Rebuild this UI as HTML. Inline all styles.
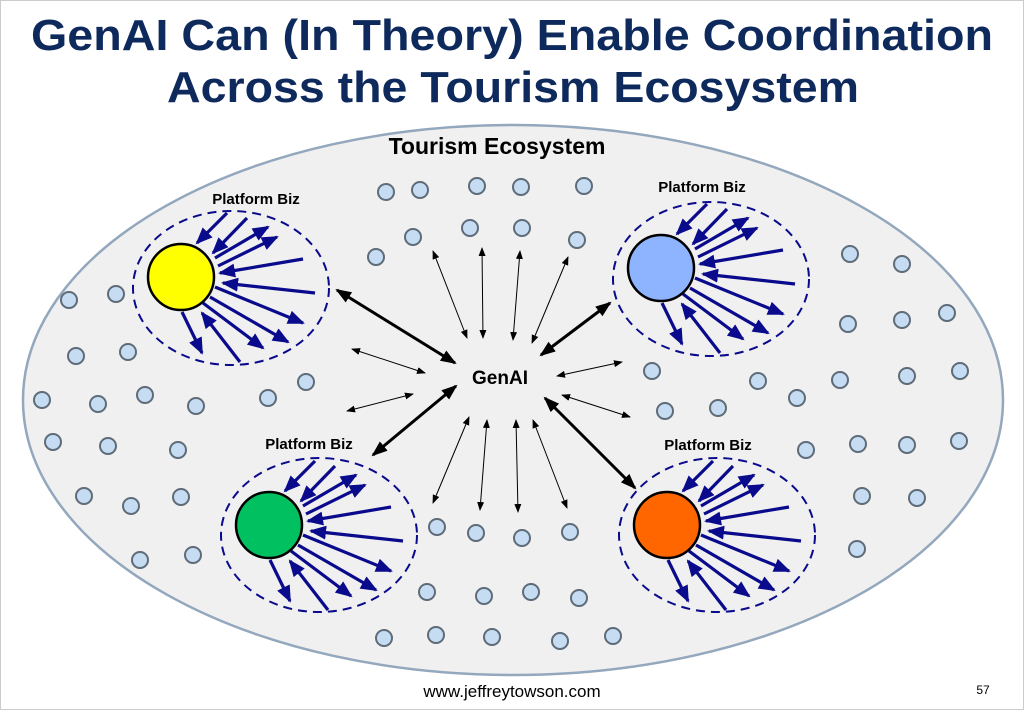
<!DOCTYPE html>
<html><head><meta charset="utf-8"><style>
html,body{margin:0;padding:0;background:#fff;width:1024px;height:710px;overflow:hidden}
svg{display:block}
</style></head><body>
<svg width="1024" height="710" viewBox="0 0 1024 710" xmlns="http://www.w3.org/2000/svg" font-family="'Liberation Sans', Arial, sans-serif">
<defs>
<marker id="bh" markerUnits="userSpaceOnUse" markerWidth="17" markerHeight="14" refX="15" refY="7" orient="auto-start-reverse"><path d="M0,0 L17,7 L0,14 Z" fill="#0a0a8c"/></marker>
<marker id="kh" markerUnits="userSpaceOnUse" markerWidth="16" markerHeight="12" refX="14" refY="6" orient="auto-start-reverse"><path d="M0,0 L16,6 L0,12 Z" fill="#000"/></marker>
<marker id="th" markerUnits="userSpaceOnUse" markerWidth="9" markerHeight="7" refX="8" refY="3.5" orient="auto-start-reverse"><path d="M0,0 L9,3.5 L0,7 Z" fill="#000"/></marker>
<g id="sp" stroke="#0a0a8c" stroke-width="3.2" marker-end="url(#bh)">
<line x1="46" y1="-64" x2="16" y2="-34"/>
<line x1="66" y1="-59" x2="32" y2="-24"/>
<line x1="34" y1="-19" x2="87" y2="-50"/>
<line x1="37" y1="-11" x2="96" y2="-40"/>
<line x1="122" y1="-18" x2="39" y2="-4"/>
<line x1="134" y1="16" x2="42" y2="6"/>
<line x1="34" y1="10" x2="122" y2="46"/>
<line x1="29" y1="20" x2="107" y2="65"/>
<line x1="22" y1="26" x2="82" y2="71"/>
<line x1="59" y1="85" x2="21" y2="36"/>
<line x1="1" y1="35" x2="21" y2="76"/>
</g>
</defs>
<rect x="0.5" y="0.5" width="1023" height="709" fill="#fff" stroke="#ccc"/>
<text x="512" y="50" text-anchor="middle" font-size="44" font-weight="bold" fill="#0e2a5c" textLength="962" lengthAdjust="spacingAndGlyphs">GenAI Can (In Theory) Enable Coordination</text>
<text x="513" y="102" text-anchor="middle" font-size="44" font-weight="bold" fill="#0e2a5c" textLength="692" lengthAdjust="spacingAndGlyphs">Across the Tourism Ecosystem</text>
<ellipse cx="513" cy="400" rx="490" ry="275" fill="#f0f0f0" stroke="#93a7bd" stroke-width="2.5"/>
<text x="497" y="154" text-anchor="middle" font-size="23" font-weight="bold" fill="#000">Tourism Ecosystem</text>
<g fill="#c5dcf2" stroke="#5e6b78" stroke-width="2">
<circle cx="386" cy="192" r="8"/><circle cx="420" cy="190" r="8"/><circle cx="477" cy="186" r="8"/><circle cx="521" cy="187" r="8"/><circle cx="584" cy="186" r="8"/><circle cx="376" cy="257" r="8"/><circle cx="413" cy="237" r="8"/><circle cx="470" cy="228" r="8"/><circle cx="522" cy="228" r="8"/><circle cx="577" cy="240" r="8"/>
<circle cx="69" cy="300" r="8"/><circle cx="116" cy="294" r="8"/><circle cx="76" cy="356" r="8"/><circle cx="128" cy="352" r="8"/><circle cx="42" cy="400" r="8"/><circle cx="98" cy="404" r="8"/><circle cx="145" cy="395" r="8"/><circle cx="196" cy="406" r="8"/><circle cx="268" cy="398" r="8"/><circle cx="306" cy="382" r="8"/><circle cx="53" cy="442" r="8"/><circle cx="108" cy="446" r="8"/><circle cx="178" cy="450" r="8"/><circle cx="84" cy="496" r="8"/><circle cx="131" cy="506" r="8"/><circle cx="181" cy="497" r="8"/><circle cx="140" cy="560" r="8"/><circle cx="193" cy="555" r="8"/>
<circle cx="850" cy="254" r="8"/><circle cx="902" cy="264" r="8"/><circle cx="848" cy="324" r="8"/><circle cx="902" cy="320" r="8"/><circle cx="947" cy="313" r="8"/><circle cx="652" cy="371" r="8"/><circle cx="758" cy="381" r="8"/><circle cx="840" cy="380" r="8"/><circle cx="907" cy="376" r="8"/><circle cx="960" cy="371" r="8"/><circle cx="665" cy="411" r="8"/><circle cx="718" cy="408" r="8"/><circle cx="797" cy="398" r="8"/><circle cx="806" cy="450" r="8"/><circle cx="858" cy="444" r="8"/><circle cx="907" cy="445" r="8"/><circle cx="959" cy="441" r="8"/><circle cx="862" cy="496" r="8"/><circle cx="917" cy="498" r="8"/><circle cx="857" cy="549" r="8"/>
<circle cx="437" cy="527" r="8"/><circle cx="476" cy="533" r="8"/><circle cx="522" cy="538" r="8"/><circle cx="570" cy="532" r="8"/><circle cx="427" cy="592" r="8"/><circle cx="484" cy="596" r="8"/><circle cx="531" cy="592" r="8"/><circle cx="579" cy="598" r="8"/><circle cx="384" cy="638" r="8"/><circle cx="436" cy="635" r="8"/><circle cx="492" cy="637" r="8"/><circle cx="560" cy="641" r="8"/><circle cx="613" cy="636" r="8"/>
</g>
<g fill="none" stroke="#0a0a8c" stroke-width="2" stroke-dasharray="9,6">
<ellipse cx="231" cy="288" rx="98" ry="77"/>
<ellipse cx="711" cy="279" rx="98" ry="77"/>
<ellipse cx="319" cy="535" rx="98" ry="77"/>
<ellipse cx="717" cy="535" rx="98" ry="77"/>
</g>
<use href="#sp" transform="translate(181,277)"/>
<use href="#sp" transform="translate(661,268)"/>
<use href="#sp" transform="translate(269,525)"/>
<use href="#sp" transform="translate(667,525)"/>
<g stroke="#000" stroke-width="2.5">
<circle cx="181" cy="277" r="33" fill="#ffff00"/>
<circle cx="661" cy="268" r="33" fill="#8fb4ff"/>
<circle cx="269" cy="525" r="33" fill="#00c060"/>
<circle cx="667" cy="525" r="33" fill="#ff6600"/>
</g>
<g font-size="15" font-weight="bold" fill="#000" text-anchor="middle">
<text x="256" y="204">Platform Biz</text>
<text x="702" y="192">Platform Biz</text>
<text x="309" y="449">Platform Biz</text>
<text x="708" y="450">Platform Biz</text>
</g>
<g stroke="#000" stroke-width="3" marker-start="url(#kh)" marker-end="url(#kh)">
<line x1="337" y1="290" x2="455" y2="363"/>
<line x1="456" y1="386" x2="373" y2="455"/>
<line x1="610" y1="303" x2="541" y2="355"/>
<line x1="545" y1="398" x2="635" y2="488"/>
</g>
<g stroke="#000" stroke-width="1" marker-start="url(#th)" marker-end="url(#th)">
<line x1="433" y1="251" x2="467" y2="338"/>
<line x1="482" y1="248" x2="483" y2="338"/>
<line x1="520" y1="251" x2="513" y2="340"/>
<line x1="568" y1="257" x2="532" y2="343"/>
<line x1="352" y1="349" x2="425" y2="373"/>
<line x1="413" y1="394" x2="347" y2="411"/>
<line x1="557" y1="376" x2="622" y2="362"/>
<line x1="562" y1="395" x2="630" y2="417"/>
<line x1="469" y1="417" x2="433" y2="503"/>
<line x1="487" y1="420" x2="480" y2="510"/>
<line x1="516" y1="420" x2="518" y2="512"/>
<line x1="533" y1="420" x2="567" y2="508"/>
</g>
<text x="500" y="384" text-anchor="middle" font-size="19" font-weight="bold" fill="#000">GenAI</text>
<text x="512" y="697" text-anchor="middle" font-size="17" fill="#000">www.jeffreytowson.com</text>
<text x="983" y="694" text-anchor="middle" font-size="12" fill="#000">57</text>
</svg>
</body></html>
